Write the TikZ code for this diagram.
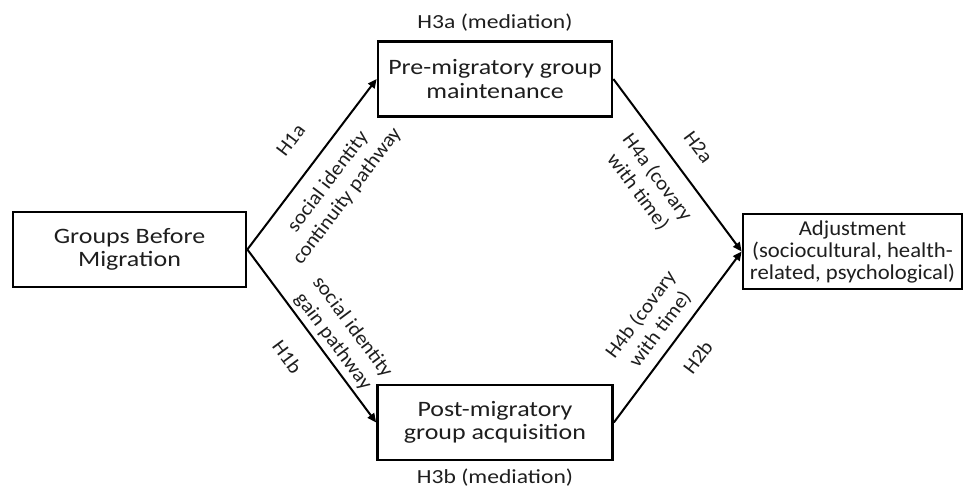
\documentclass[tikz,border=0pt]{standalone}
\usepackage{fontspec}
\setsansfont[FakeStretch=1.18]{Carlito}
\newfontfamily\lblfont[FakeStretch=1.07]{Carlito}
\usepackage{xcolor}
\usetikzlibrary{positioning, arrows.meta}
\definecolor{Ink}{HTML}{1E1E1E}

\begin{document}
\begin{tikzpicture}[
  x=0.5pt, y=0.5pt,
  every node/.style={font=\sffamily\fontsize{10}{12}\selectfont, text=Ink},
  block/.style={draw, line width=1.35pt, minimum height=37.5pt,
    align=center, inner sep=2pt, font=\sffamily\fontsize{11}{11.7}\selectfont},
  arr/.style={-{Triangle[length=4.5pt, width=4pt]}, line width=1pt},
  lbl/.style={sloped, align=center, inner sep=2pt, font=\lblfont\fontsize{10}{12}\selectfont}
]
  \useasboundingbox (0,0) rectangle (965,490);

  % Boxes
  \node[block, minimum width=116.5pt] (groups) at (129.5,240.5) {Groups Before\\Migration};
  \node[block, minimum width=117pt] (pre) at (495,411) {Pre-migratory group\\maintenance};
  \node[block, minimum width=117.5pt] (post) at (495,67.5) {Post-migratory\\group acquisition};
  \node[block, minimum width=109.5pt, font=\lblfont\fontsize{10.6}{11}\selectfont] (adj) at (852.5,238.5)
    {Adjustment\\(sociocultural, health-\\related, psychological)};

  % Mediation labels
  \node (h3a) at (495,467) {H3a (mediation)};
  \node (h3b) at (495,12) {H3b (mediation)};

  % Arrows
  \draw[arr] (groups.east) --
    node[lbl, above=10pt, pos=0.53] (h1a) {H1a}
    node[lbl, below=5pt, pos=0.48] (cont) {social identity\\continuity pathway} (pre.west);
  \draw[arr] (groups.east) --
    node[lbl, above=0pt, pos=0.58] (gain) {social identity\\gain pathway}
    node[lbl, below=10pt, pos=0.51] (h1b) {H1b} (post.west);
  \draw[arr] (pre.east) --
    node[lbl, above=8pt, pos=0.49] (h2a) {H2a}
    node[lbl, below=5pt, pos=0.49] (h4a) {H4a (covary\\with time)} (adj.west);
  \draw[arr] (post.east) --
    node[lbl, above=2.5pt, pos=0.48] (h4b) {H4b (covary\\with time)}
    node[lbl, below=8pt, pos=0.48] (h2b) {H2b} (adj.west);
\end{tikzpicture}
\end{document}
